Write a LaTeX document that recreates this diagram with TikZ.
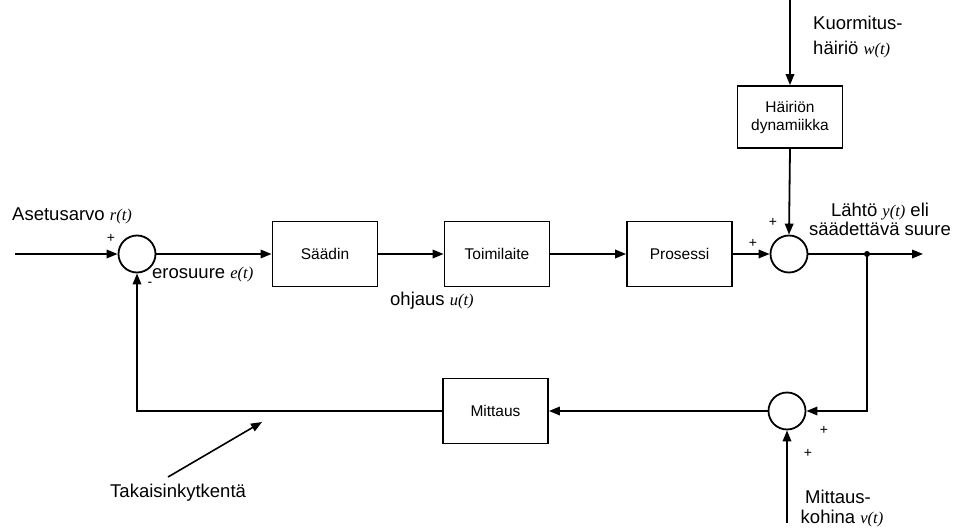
\documentclass[tikz,border=0pt]{standalone}
\usepackage{fontspec}
\setmainfont{Liberation Sans}
\newfontfamily\varfont{Liberation Serif}
\usetikzlibrary{arrows.meta}
\newcommand{\vv}[1]{{\varfont\itshape\fontsize{16.5}{18}\selectfont #1}}
\tikzset{
  wire/.style={line width=1.8pt, -{Triangle[length=11pt,width=8.5pt]}},
  blk/.style={draw, line width=1.8pt, minimum width=105pt, minimum height=65pt, inner sep=0pt,
     font=\fontsize{15.5}{18}\selectfont, align=center},
  summ/.style={draw, circle, line width=1.8pt, minimum size=37pt, inner sep=0pt},
  lbl/.style={font=\fontsize{18.5}{21}\selectfont, inner sep=0pt},
  sgn/.style={font=\fontsize{14}{14}\selectfont, inner sep=0pt},
}
\begin{document}
\begin{tikzpicture}[x=1pt,y=-1pt]
\useasboundingbox (0,0) rectangle (957,529);
% blocks
\node[summ] (s1) at (137,254) {};
\node[blk] (saadin) at (325,254) {Säädin};
\node[blk] (toimi) at (497,254) {Toimilaite};
\node[blk] (prosessi) at (679.5,254) {Prosessi};
\node[summ] (s2) at (789,254) {};
\node[blk, minimum height=62pt] (hair) at (790,117) {Häiriön\\dynamiikka};
\node[blk] (mittaus) at (495.5,411) {Mittaus};
\node[summ] (s3) at (787,411) {};
% coordinates
\coordinate (inp) at (15,254);
\coordinate (outp) at (923,254);
\coordinate (jn) at (867,254);
\coordinate (fbr) at (867,411);
\coordinate (fbl) at (137,411);
\coordinate (wst) at (790,0);
\coordinate (vst) at (787,523);
\coordinate (tk1) at (168,477);
\coordinate (tk2) at (262,422);
\fill (jn) circle (3pt);
% connectors
\draw[wire] (inp) -- (s1.west);
\draw[wire] (s1.east) -- (saadin.west);
\draw[wire] (saadin.east) -- (toimi.west);
\draw[wire] (toimi.east) -- (prosessi.west);
\draw[wire] (prosessi.east) -- (s2.west);
\draw[wire] (wst) -- (hair.north);
\draw[wire] (hair.south) -- (s2.north);
\draw[wire] (s2.east) -- (outp);
\draw[wire] (jn) -- (fbr) -- (s3.east);
\draw[wire] (vst) -- (s3.south);
\draw[wire] (s3.west) -- (mittaus.east);
\draw[wire] (mittaus.west) -- (fbl) -- (s1.south);
\draw[wire, line width=1.6pt] (tk1) -- (tk2);
% labels
\node[lbl, anchor=base west] (asetus) at (12,221) {Asetusarvo \vv{r(t)}};
\node[lbl, anchor=base west] (ero) at (152,278) {erosuure \vv{e(t)}};
\node[lbl, anchor=base west] (ohj) at (390,305) {ohjaus \vv{u(t)}};
\node[lbl, anchor=base] (lahto1) at (880,216) {Lähtö \vv{y(t)} eli};
\node[lbl, anchor=base] (lahto2) at (880,235) {säädettävä suure};
\node[lbl, anchor=base west] (kuor1) at (813,30) {Kuormitus-};
\node[lbl, anchor=base west] (kuor2) at (813,55) {häiriö \vv{w(t)}};
\node[lbl, anchor=base] (mit1) at (838,503) {Mittaus-};
\node[lbl, anchor=base] (mit2) at (842,523) {kohina \vv{v(t)}};
\node[lbl, anchor=base west] (takai) at (110,497) {Takaisinkytkentä};
% signs
\node[sgn] (p1) at (111,238) {+};
\node[sgn] (m1) at (150,284) {-};
\node[sgn] (p2a) at (773,222) {+};
\node[sgn] (p2b) at (753,243) {+};
\node[sgn] (p3a) at (824,430) {+};
\node[sgn] (p3b) at (808,453) {+};
\end{tikzpicture}
\end{document}
